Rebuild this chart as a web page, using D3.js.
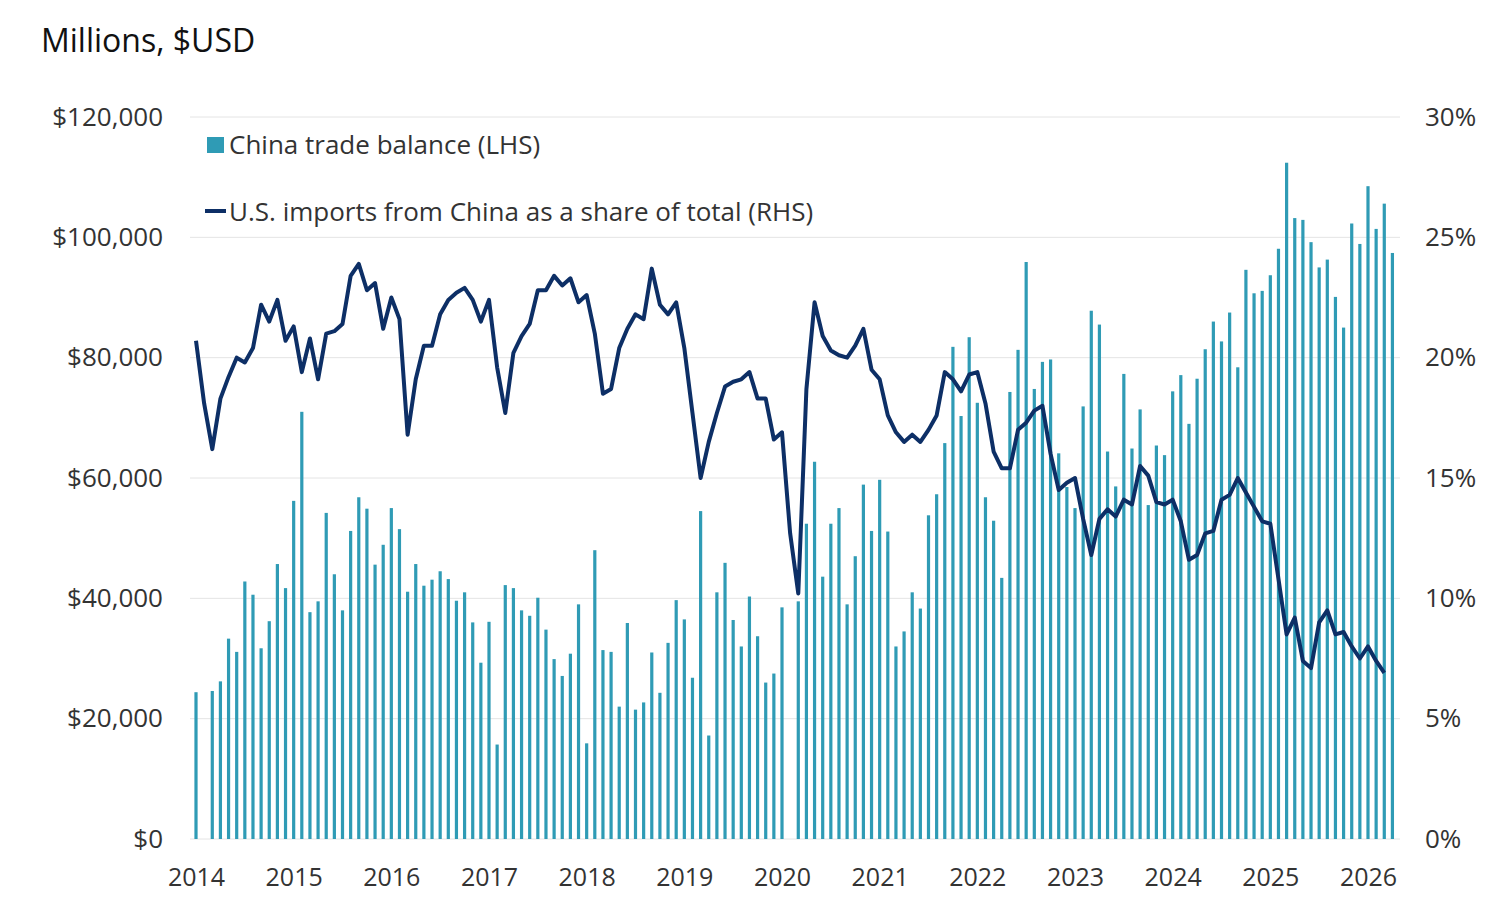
<!DOCTYPE html>
<html><head><meta charset="utf-8">
<script src="https://cdn.jsdelivr.net/npm/d3@7/dist/d3.min.js"></script>
<style>body{margin:0;background:#fff}svg{font-family:"Open Sans","Noto Sans",sans-serif}</style>
</head><body><svg id="c" width="1504" height="920"></svg>
<script>
const yearLabels=["2014","2015","2016","2017","2018","2019","2020","2021","2022","2023","2024","2025","2026"];
const leftTicks=[0,20000,40000,60000,80000,100000,120000];
const rightTicks=[0,5,10,15,20,25,30];
// monthly China trade balance, millions USD, from Jan 2014 (null = combined Jan-Feb)
const tradeBalance=[
24400,null,24600,26200,33300,31100,42800,40600,31700,36200,45700,41700,
56200,71000,37700,39500,54200,44000,38000,51200,56800,54900,45600,48900,
55000,51500,41100,45700,42100,43100,44500,43200,39600,41000,36000,29300,
36100,15700,42200,41700,38000,37100,40100,34800,29900,27100,30800,39000,
15900,48000,31400,31100,22000,35900,21500,22700,31000,24300,32600,39700,
36500,26800,54500,17200,41000,45900,36400,32000,40300,33700,26000,27500,
38500,null,39500,52400,62700,43600,52400,55000,39000,47000,58900,51200,
59700,51100,32000,34500,41000,38300,53800,57300,65800,81800,70300,83400,
72500,56800,52900,43400,74300,81300,95900,74800,79300,79700,64100,58500,
55000,71900,87800,85500,64400,58600,77300,64900,71400,55500,65400,63800,
74400,77100,69000,76500,81400,86000,82700,87500,78400,94600,90700,91100,
93700,98100,112400,103200,102900,99200,95000,96300,90100,85000,102300,98900,
108500,101400,105600,97400];
// U.S. imports from China as share of total imports, %
const importShare=[
20.7,18.1,16.2,18.3,19.2,20.0,19.8,20.4,22.2,21.5,22.4,20.7,
21.3,19.4,20.8,19.1,21.0,21.1,21.4,23.4,23.9,22.8,23.1,21.2,
22.5,21.6,16.8,19.1,20.5,20.5,21.8,22.4,22.7,22.9,22.4,21.5,
22.4,19.6,17.7,20.2,20.9,21.4,22.8,22.8,23.4,23.0,23.3,22.3,
22.6,21.0,18.5,18.7,20.4,21.2,21.8,21.6,23.7,22.2,21.8,22.3,
20.4,17.7,15.0,16.5,17.7,18.8,19.0,19.1,19.4,18.3,18.3,16.6,
16.9,12.7,10.2,18.7,22.3,20.9,20.3,20.1,20.0,20.5,21.2,19.5,
19.1,17.6,16.9,16.5,16.8,16.5,17.0,17.6,19.4,19.1,18.6,19.3,
19.4,18.1,16.1,15.4,15.4,17.0,17.3,17.8,18.0,16.0,14.5,14.8,
15.0,13.3,11.8,13.3,13.7,13.4,14.1,13.9,15.5,15.1,14.0,13.9,
14.1,13.2,11.6,11.8,12.7,12.8,14.1,14.3,15.0,14.4,13.8,13.2,
13.1,10.8,8.5,9.2,7.4,7.1,9.0,9.5,8.5,8.6,8.0,7.5,
8.0,7.4,6.9];

const svg=d3.select("#c");
const x=d3.scaleLinear().domain([0,144]).range([196,1368]);
const yL=d3.scaleLinear().domain([0,120000]).range([839,117]);
const yR=d3.scaleLinear().domain([0,30]).range([839,117]);

svg.append("g").selectAll("line").data(leftTicks).join("line")
 .attr("x1",190).attr("x2",1400).attr("y1",d=>yL(d)).attr("y2",d=>yL(d))
 .attr("stroke","#e4e4e4").attr("stroke-width",1);

const fmt=d=>"$"+d3.format(",")(d);
const gl=svg.append("g").attr("transform","translate(163,0)")
 .call(d3.axisLeft(yL).tickValues(leftTicks).tickFormat(fmt).tickSize(0).tickPadding(0));
const gr=svg.append("g").attr("transform","translate(1425,0)")
 .call(d3.axisRight(yR).tickValues(rightTicks).tickFormat(d=>d+"%").tickSize(0).tickPadding(0));
const gx=svg.append("g").attr("transform","translate(0,868)")
 .call(d3.axisBottom(x).tickValues(yearLabels.map((d,i)=>i*12)).tickFormat((d,i)=>yearLabels[i]).tickSize(0).tickPadding(0));
[gl,gr,gx].forEach(g=>{g.select(".domain").remove();
 g.selectAll("text").attr("font-size",26).attr("fill","#333").attr("font-family","'Open Sans',sans-serif");});
gx.selectAll("text").attr("dy","0.71em").attr("font-size",25);

svg.append("g").selectAll("rect").data(tradeBalance.map((v,i)=>({v,i})).filter(d=>d.v!=null)).join("rect")
 .attr("x",d=>x(d.i)-1.6).attr("width",3.2).attr("y",d=>yL(d.v)).attr("height",d=>839-yL(d.v))
 .attr("fill","#2f9bb5");

svg.append("path").datum(importShare).attr("fill","none").attr("stroke","#0d2f66")
 .attr("stroke-width",4).attr("stroke-linejoin","round")
 .attr("d",d3.line().x((d,i)=>x(i)).y(d=>yR(d)));

svg.append("text").attr("x",41).attr("y",52).attr("font-size",32).attr("fill","#111").text("Millions, $USD");
svg.append("rect").attr("x",207).attr("y",137).attr("width",17).attr("height",16).attr("fill","#2f9bb5");
svg.append("text").attr("x",229).attr("y",154).attr("font-size",26).attr("fill","#333").text("China trade balance (LHS)");
svg.append("line").attr("x1",205).attr("x2",226).attr("y1",211).attr("y2",211).attr("stroke","#0d2f66").attr("stroke-width",4);
svg.append("text").attr("x",229).attr("y",221).attr("font-size",26).attr("fill","#333").text("U.S. imports from China as a share of total (RHS)");
</script></body></html>
